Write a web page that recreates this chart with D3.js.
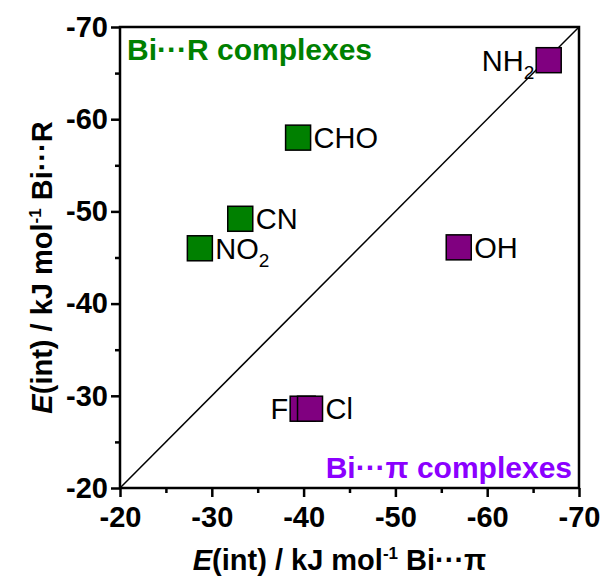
<!DOCTYPE html>
<html>
<head>
<meta charset="utf-8">
<script src="https://cdn.jsdelivr.net/npm/d3@7"></script>
<style>
  body { margin: 0; background: #fff; }
  text { font-family: "Liberation Sans", Arial, sans-serif; }
</style>
</head>
<body>
<div id="chart"></div>
<script>
// values: E(int) for Bi...pi (x) and Bi...R (y)
const labels = ["NO2", "CN", "CHO", "OH", "F", "Cl", "NH2"];
const groups = ["R", "R", "R", "pi", "pi", "pi", "pi"];
const xVals = [-28.7, -33.1, -39.4, -56.9, -39.9, -40.7, -66.7];
const yVals = [-46.0, -49.2, -58.0, -46.1, -28.6, -28.6, -66.4];
const tickVals = [-20, -30, -40, -50, -60, -70];
const minorVals = [-25, -35, -45, -55, -65];

const width = 603, height = 584;
const margin = { top: 27, right: 24, bottom: 96, left: 120 };
const innerW = width - margin.left - margin.right;
const innerH = height - margin.top - margin.bottom;

const svg = d3.select("#chart").append("svg")
  .attr("width", width).attr("height", height);
const g = svg.append("g")
  .attr("transform", "translate(" + margin.left + "," + margin.top + ")");

const x = d3.scaleLinear().domain([-20, -70]).range([0, innerW]);
const y = d3.scaleLinear().domain([-20, -70]).range([innerH, 0]);
const color = { R: "#008000", pi: "#800080" };

// diagonal y = x
g.append("line")
  .attr("x1", x(-20)).attr("y1", y(-20))
  .attr("x2", x(-70)).attr("y2", y(-70))
  .attr("stroke", "#000").attr("stroke-width", 1.5);

// axes
const fmt = d => "-" + Math.abs(d);
const xAxis = g.append("g").attr("transform", "translate(0," + innerH + ")")
  .call(d3.axisBottom(x).tickValues(tickVals).tickSize(9).tickFormat(fmt));
g.append("g").attr("transform", "translate(0," + innerH + ")")
  .call(d3.axisBottom(x).tickValues(minorVals).tickSize(5).tickFormat(""));
const yAxis = g.append("g")
  .call(d3.axisLeft(y).tickValues(tickVals).tickSize(9).tickFormat(fmt));
g.append("g")
  .call(d3.axisLeft(y).tickValues(minorVals).tickSize(5).tickFormat(""));

svg.selectAll(".domain").remove();
svg.selectAll(".tick line").attr("stroke", "#000").attr("stroke-width", 2.5);
xAxis.selectAll("text").attr("y", 13).attr("dy", "0.9em");
yAxis.selectAll("text").attr("x", -12);
svg.selectAll(".tick text")
  .style("font-family", "'Liberation Sans', Arial, sans-serif")
  .style("font-size", "29px").style("font-weight", "bold").attr("fill", "#000");

// frame
g.append("rect").attr("width", innerW).attr("height", innerH)
  .attr("fill", "none").attr("stroke", "#000").attr("stroke-width", 2.5);

// points
const pts = labels.map((l, i) => ({ label: l, grp: groups[i], x: xVals[i], y: yVals[i] }));
const s = 25;
g.selectAll(".pt").data(pts).enter().append("rect")
  .attr("class", "pt")
  .attr("x", d => x(d.x) - s / 2).attr("y", d => y(d.y) - s / 2)
  .attr("width", s).attr("height", s)
  .attr("fill", d => color[d.grp]).attr("stroke", "#000").attr("stroke-width", 1.5);

// point labels
function addLabel(d, side) {
  const t = g.append("text")
    .attr("y", y(d.y) + 10.5)
    .style("font-size", "29px").attr("fill", "#000");
  const m = d.label.match(/^([A-Za-z]+?)(2?)$/);
  t.append("tspan").text(m[1]);
  if (m[2]) t.append("tspan").attr("dy", 8).style("font-size", "19px").text(m[2]);
  if (side === "right") {
    t.attr("x", x(d.x) + s / 2 + 3);
  } else {
    t.attr("x", x(d.x) - s / 2 - 2).attr("text-anchor", "end");
  }
}
pts.forEach(d => {
  const side = (d.label === "F" || d.label === "NH2") ? "left" : "right";
  addLabel(d, side);
});

// group titles
g.append("text").attr("x", 7).attr("y", 33)
  .style("font-size", "30px").style("font-weight", "bold").attr("fill", "#008000")
  .text("Bi\u00b7\u00b7\u00b7R complexes");
g.append("text").attr("x", innerW - 7).attr("y", innerH - 10).attr("text-anchor", "end")
  .style("font-size", "30px").style("font-weight", "bold").attr("fill", "#8b00ff")
  .text("Bi\u00b7\u00b7\u00b7\u03c0 complexes");

// axis titles
function axisTitle(sel, tail) {
  sel.style("font-size", "29px").style("font-weight", "bold").attr("fill", "#000");
  sel.append("tspan").style("font-style", "italic").text("E");
  sel.append("tspan").text("(int) / kJ mol");
  sel.append("tspan").attr("dy", -11).style("font-size", "17px").text("-1");
  sel.append("tspan").attr("dy", 11).text(" Bi\u00b7\u00b7\u00b7" + tail);
}
const xt = svg.append("text").attr("x", margin.left + innerW / 2 - 10).attr("y", 570)
  .attr("text-anchor", "middle");
axisTitle(xt, "\u03c0");
const yt = svg.append("text")
  .attr("transform", "translate(52," + (margin.top + innerH / 2 + 10) + ") rotate(-90)")
  .attr("text-anchor", "middle");
axisTitle(yt, "R");
</script>
</body>
</html>
